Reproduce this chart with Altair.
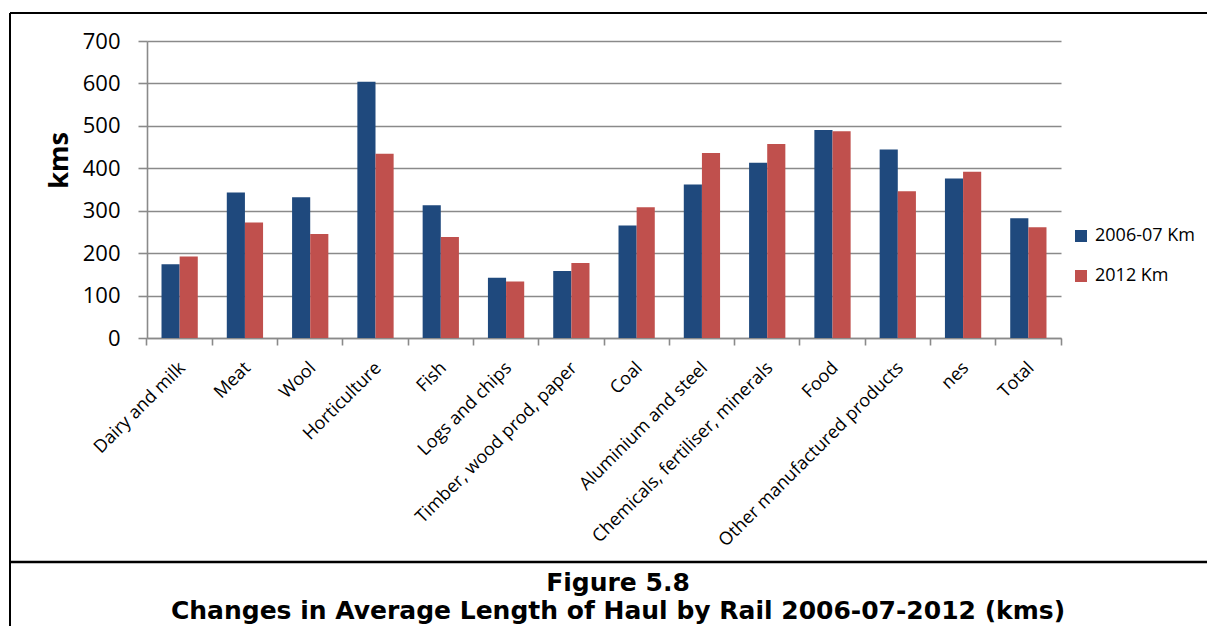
import altair as alt
import pandas as pd

categories = ["Dairy and milk", "Meat", "Wool", "Horticulture", "Fish", "Logs and chips",
              "Timber, wood prod, paper", "Coal", "Aluminium and steel",
              "Chemicals, fertiliser, minerals", "Food", "Other manufactured products",
              "nes", "Total"]
km_2006_07 = [174, 343, 332, 604, 313, 142, 158, 265, 362, 413, 490, 444, 376, 282]
km_2012 = [192, 272, 245, 434, 238, 133, 177, 308, 436, 457, 487, 346, 392, 261]
series = ["2006-07 Km", "2012 Km"]
colors = ["#1F497D", "#C0504D"]
y_ticks = [0, 100, 200, 300, 400, 500, 600, 700]
y_title = "kms"
caption_lines = ["Figure 5.8", "Changes in Average Length of Haul by Rail 2006-07-2012 (kms)"]

rows = []
for c, a, b in zip(categories, km_2006_07, km_2012):
    rows.append({"category": c, "series": series[0], "km": a})
    rows.append({"category": c, "series": series[1], "km": b})
df = pd.DataFrame(rows)

W, H = 914, 297
GRAY = "#8a8a8a"
FONT = "Open Sans"

bars = alt.Chart(df).mark_bar().encode(
    x=alt.X("category:N", sort=categories,
            scale=alt.Scale(paddingInner=0, paddingOuter=0),
            axis=alt.Axis(title=None, labelAngle=-45, labelAlign="right", labelBaseline="middle",
                          labelFont=FONT, labelFontSize=18, labelColor="black",
                          labelPadding=20, labelOffset=3, bandPosition=1, tickExtra=True,
                          tickSize=7, tickColor=GRAY, tickWidth=1.6, domainColor=GRAY,
                          domainWidth=1.6, grid=False, labelOverlap=False, labelLimit=500)),
    xOffset=alt.XOffset("series:N", sort=series,
                        scale=alt.Scale(paddingInner=0, paddingOuter=0.8)),
    y=alt.Y("km:Q", scale=alt.Scale(domain=[0, 700]),
            axis=alt.Axis(values=y_ticks, title=y_title, titleFont=FONT, titleFontSize=27,
                          titleFontWeight="bold", titleColor="black", titleAngle=270,
                          titleAlign="center", titleBaseline="middle", titleX=-88, titleY=119,
                          labelFont=FONT, labelFontSize=22, labelColor="black", labelPadding=18,
                          tickSize=9, tickColor=GRAY, tickWidth=1.6, domainColor=GRAY,
                          domainWidth=1.6, gridColor=GRAY, gridWidth=1.6)),
    color=alt.Color("series:N", sort=series, scale=alt.Scale(domain=series, range=colors),
                    legend=alt.Legend(title=None, orient="none", legendX=925, legendY=186,
                                      symbolType="square", symbolSize=144, symbolStrokeWidth=0,
                                      labelFont=FONT, labelFontSize=18, labelColor="black",
                                      rowPadding=22, labelOffset=5, padding=0)),
)

one = pd.DataFrame({"k": [0]})
frame_top = alt.Chart(one).mark_rule(color="black", strokeWidth=2).encode(
    x=alt.value(-137), x2=alt.value(1070), y=alt.value(-28))
frame_left = alt.Chart(one).mark_rule(color="black", strokeWidth=2).encode(
    x=alt.value(-137), y=alt.value(-28), y2=alt.value(600))
frame_sep = alt.Chart(one).mark_rule(color="black", strokeWidth=2.5).encode(
    x=alt.value(-137), x2=alt.value(1070), y=alt.value(521))
cap1 = alt.Chart(one).mark_text(font="DejaVu Sans", fontWeight="bold", fontSize=25,
                                align="center", baseline="alphabetic", color="black").encode(
    x=alt.value(471), y=alt.value(550), text=alt.value(caption_lines[0]))
cap2 = alt.Chart(one).mark_text(font="DejaVu Sans", fontWeight="bold", fontSize=25,
                                align="center", baseline="alphabetic", color="black").encode(
    x=alt.value(471), y=alt.value(578), text=alt.value(caption_lines[1]))

chart = alt.layer(bars, frame_top, frame_left, frame_sep, cap1, cap2).properties(
    width=W, height=H,
    autosize=alt.AutoSizeParams(type="none"),
    padding={"left": 139, "top": 33, "right": 146, "bottom": 288},
).configure_view(stroke=None)

chart.save("out.html", embed_options={"renderer": "svg", "actions": False})
